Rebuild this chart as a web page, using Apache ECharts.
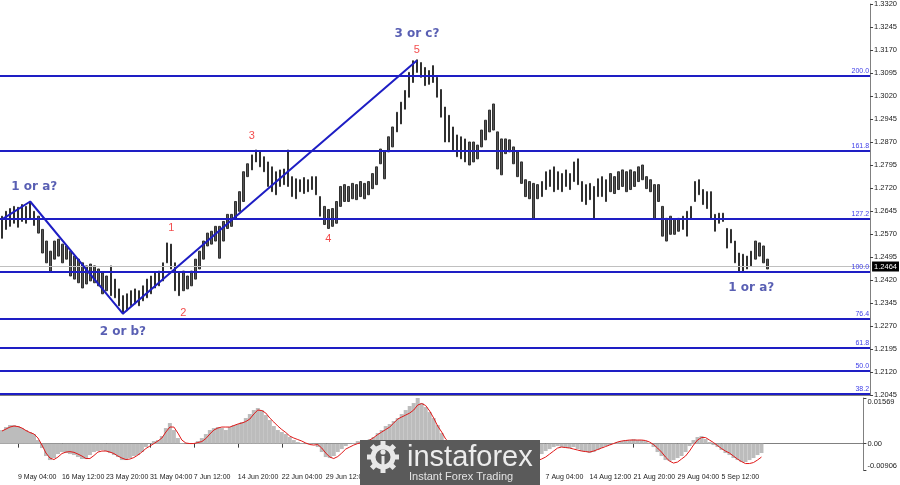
<!DOCTYPE html>
<html><head><meta charset="utf-8">
<script src="https://cdn.jsdelivr.net/npm/echarts@6.0.0/dist/echarts.min.js"></script>
<style>html,body{margin:0;padding:0;background:#fff;}#c{width:900px;height:485px;}</style>
</head><body><div id="c"></div>
<script>
// ---- price bars (one bar per slot), highs and lows ----
const HIGH = [
1.2628,1.2644,1.2653,1.2660,1.2657,1.2666,1.2660,1.2676,1.2644,1.2628,
1.2585,1.2547,1.2514,1.2547,1.2553,1.2537,1.2531,1.2514,1.2498,1.2488,
1.2476,1.2466,1.2472,1.2466,1.2456,1.2443,1.2433,1.2466,1.2423,1.2391,
1.2369,1.2375,1.2385,1.2391,1.2385,1.2401,1.2423,1.2433,1.2443,1.2449,
1.2476,1.2541,1.2537,1.2476,1.2443,1.2449,1.2433,1.2449,1.2488,1.2514,
1.2547,1.2573,1.2579,1.2595,1.2595,1.2611,1.2634,1.2634,1.2676,1.2708,
1.2773,1.2799,1.2828,1.2844,1.2838,1.2822,1.2805,1.2789,1.2773,1.2779,
1.2782,1.2844,1.2757,1.2750,1.2747,1.2754,1.2747,1.2757,1.2757,1.2692,
1.2660,1.2650,1.2653,1.2676,1.2725,1.2731,1.2725,1.2735,1.2731,1.2741,
1.2735,1.2741,1.2767,1.2789,1.2847,1.2838,1.2887,1.2919,1.2967,1.3000,
1.3038,1.3097,1.3135,1.3138,1.3129,1.3113,1.3103,1.3119,1.3081,1.3041,
1.2984,1.2957,1.2919,1.2893,1.2887,1.2880,1.2870,1.2870,1.2860,1.2909,
1.2941,1.2974,1.2994,1.2903,1.2880,1.2880,1.2877,1.2854,1.2838,1.2805,
1.2747,1.2741,1.2735,1.2731,1.2741,1.2773,1.2779,1.2789,1.2773,1.2767,
1.2779,1.2767,1.2805,1.2815,1.2741,1.2731,1.2735,1.2725,1.2750,1.2757,
1.2747,1.2767,1.2757,1.2773,1.2779,1.2773,1.2779,1.2773,1.2789,1.2795,
1.2757,1.2747,1.2731,1.2731,1.2660,1.2621,1.2628,1.2618,1.2621,1.2628,
1.2644,1.2660,1.2741,1.2747,1.2715,1.2708,1.2708,1.2634,1.2638,1.2638,
1.2588,1.2585,1.2547,1.2508,1.2504,1.2498,1.2514,1.2547,1.2541,1.2531,
1.2488];
const LOW = [
1.2556,1.2585,1.2595,1.2605,1.2592,1.2611,1.2605,1.2618,1.2598,1.2573,
1.2508,1.2476,1.2449,1.2488,1.2498,1.2476,1.2488,1.2433,1.2423,1.2411,
1.2394,1.2407,1.2417,1.2411,1.2401,1.2375,1.2385,1.2369,1.2362,1.2336,
1.2310,1.2320,1.2336,1.2342,1.2336,1.2352,1.2362,1.2375,1.2394,1.2401,
1.2417,1.2476,1.2456,1.2385,1.2369,1.2385,1.2391,1.2401,1.2423,1.2456,
1.2488,1.2531,1.2537,1.2547,1.2491,1.2547,1.2588,1.2595,1.2618,1.2644,
1.2676,1.2757,1.2779,1.2805,1.2789,1.2773,1.2725,1.2708,1.2698,1.2725,
1.2731,1.2725,1.2692,1.2685,1.2708,1.2702,1.2708,1.2715,1.2698,1.2628,
1.2601,1.2588,1.2595,1.2605,1.2660,1.2676,1.2676,1.2685,1.2682,1.2692,
1.2685,1.2698,1.2718,1.2731,1.2799,1.2750,1.2838,1.2854,1.2903,1.2929,
1.2977,1.3016,1.3064,1.3097,1.3081,1.3054,1.3058,1.3064,1.3016,1.2951,
1.2870,1.2870,1.2844,1.2822,1.2815,1.2805,1.2795,1.2805,1.2815,1.2854,
1.2877,1.2903,1.2909,1.2782,1.2763,1.2832,1.2838,1.2799,1.2757,1.2735,
1.2692,1.2685,1.2621,1.2685,1.2692,1.2715,1.2725,1.2708,1.2715,1.2708,
1.2725,1.2715,1.2741,1.2731,1.2676,1.2666,1.2682,1.2618,1.2692,1.2692,
1.2676,1.2708,1.2702,1.2715,1.2725,1.2708,1.2715,1.2725,1.2741,1.2747,
1.2718,1.2708,1.2618,1.2676,1.2563,1.2547,1.2569,1.2569,1.2579,1.2585,
1.2563,1.2621,1.2676,1.2698,1.2666,1.2653,1.2621,1.2579,1.2605,1.2611,
1.2524,1.2541,1.2476,1.2449,1.2449,1.2456,1.2466,1.2488,1.2498,1.2476,
1.2456];
// ---- MACD panel ----
const MACD_HIST = [
0.00468,0.00571,0.00639,0.00639,0.00605,0.00536,0.00468,0.00399,0.00330,0.00124,
-0.00151,-0.00426,-0.00564,-0.00495,-0.00358,-0.00289,-0.00323,-0.00358,-0.00392,-0.00461,
-0.00529,-0.00529,-0.00392,-0.00289,-0.00254,-0.00220,-0.00254,-0.00323,-0.00392,-0.00461,
-0.00564,-0.00564,-0.00495,-0.00426,-0.00392,-0.00289,-0.00117,-0.00014,0.00089,0.00124,
0.00261,0.00536,0.00708,0.00468,0.00193,0.00021,-0.00014,-0.00014,0.00021,0.00089,
0.00193,0.00330,0.00468,0.00536,0.00571,0.00536,0.00468,0.00571,0.00639,0.00674,
0.00743,0.00880,0.01018,0.01155,0.01224,0.01155,0.00983,0.00811,0.00605,0.00468,
0.00399,0.00330,0.00227,0.00124,0.00055,0.00021,-0.00014,0.00021,-0.00014,-0.00117,
-0.00289,-0.00461,-0.00495,-0.00426,-0.00289,-0.00186,-0.00083,-0.00014,0.00021,0.00089,
0.00089,0.00124,0.00158,0.00227,0.00364,0.00468,0.00605,0.00674,0.00777,0.00880,
0.01018,0.01155,0.01293,0.01396,0.01569,0.01396,0.01258,0.01086,0.00880,0.00639,
0.00364,0.00089,-0.00117,-0.00289,-0.00426,-0.00564,-0.00667,-0.00770,-0.00839,-0.00873,
-0.00839,-0.00736,-0.00633,-0.00598,-0.00701,-0.00839,-0.00906,-0.00873,-0.00804,-0.00736,
-0.00701,-0.00667,-0.00633,-0.00564,-0.00461,-0.00358,-0.00254,-0.00186,-0.00117,-0.00083,
-0.00117,-0.00151,-0.00151,-0.00117,-0.00186,-0.00254,-0.00289,-0.00323,-0.00289,-0.00220,
-0.00151,-0.00083,-0.00048,0.00021,0.00055,0.00089,0.00124,0.00124,0.00158,0.00124,
0.00124,0.00089,0.00021,-0.00117,-0.00289,-0.00426,-0.00564,-0.00598,-0.00564,-0.00495,
-0.00426,-0.00289,-0.00083,0.00124,0.00227,0.00261,0.00158,0.00055,-0.00048,-0.00117,
-0.00220,-0.00323,-0.00392,-0.00495,-0.00564,-0.00633,-0.00633,-0.00564,-0.00495,-0.00392,
-0.00323];
const MACD_SIGNAL = [
0.00433,0.00502,0.00571,0.00605,0.00588,0.00536,0.00450,0.00382,0.00330,0.00193,
-0.00048,-0.00323,-0.00495,-0.00547,-0.00461,-0.00340,-0.00289,-0.00275,-0.00299,-0.00358,
-0.00426,-0.00512,-0.00512,-0.00409,-0.00289,-0.00254,-0.00254,-0.00289,-0.00340,-0.00426,
-0.00495,-0.00547,-0.00529,-0.00478,-0.00392,-0.00289,-0.00168,-0.00083,0.00003,0.00089,
0.00193,0.00399,0.00571,0.00571,0.00364,0.00124,0.00021,0.00003,0.00003,0.00038,
0.00072,0.00175,0.00330,0.00468,0.00536,0.00571,0.00571,0.00571,0.00622,0.00674,
0.00708,0.00760,0.00846,0.01018,0.01155,0.01138,0.01052,0.00880,0.00743,0.00605,
0.00485,0.00382,0.00261,0.00193,0.00141,0.00089,0.00021,-0.00031,-0.00048,-0.00031,
-0.00151,-0.00323,-0.00461,-0.00512,-0.00444,-0.00323,-0.00186,-0.00117,-0.00048,0.00003,
0.00038,0.00072,0.00124,0.00210,0.00313,0.00399,0.00485,0.00571,0.00708,0.00846,
0.00915,0.00983,0.01052,0.01155,0.01327,0.01379,0.01310,0.01121,0.00880,0.00605,
0.00399,0.00158,0.00021,-0.00117,-0.00254,-0.00358,-0.00461,-0.00547,-0.00615,-0.00667,
-0.00719,-0.00753,-0.00770,-0.00770,-0.00770,-0.00770,-0.00787,-0.00804,-0.00804,-0.00787,
-0.00770,-0.00736,-0.00701,-0.00650,-0.00581,-0.00529,-0.00461,-0.00358,-0.00254,-0.00151,
-0.00117,-0.00134,-0.00151,-0.00186,-0.00220,-0.00254,-0.00272,-0.00289,-0.00254,-0.00203,
-0.00151,-0.00100,-0.00048,0.00003,0.00055,0.00089,0.00107,0.00124,0.00124,0.00124,
0.00124,0.00107,0.00055,-0.00031,-0.00151,-0.00289,-0.00461,-0.00598,-0.00667,-0.00633,
-0.00529,-0.00426,-0.00254,-0.00048,0.00124,0.00210,0.00210,0.00124,0.00038,-0.00065,
-0.00168,-0.00254,-0.00323,-0.00426,-0.00529,-0.00615,-0.00684,-0.00684,-0.00650,-0.00564,
-0.00461];
// ---- levels, ticks, labels ----
const FIB_LEVELS = [1.3087, 1.2841, 1.2621, 1.2446, 1.2294, 1.2200, 1.2124, 1.2050];
const FIB_LABELS = ['200.0', '161.8', '127.2', '100.0', '76.4', '61.8', '50.0', '38.2'];
const LAST_PRICE = 1.2464;
const PRICE_MIN = 1.2045, PRICE_MAX = 1.3320, PRICE_STEP = 0.0075;
const MACD_MIN = -0.00906, MACD_MAX = 0.01569;
const MACD_TICKS = [MACD_MIN, 0, MACD_MAX];
const TIME_LABELS = ['9 May 04:00', '16 May 12:00', '23 May 20:00', '31 May 04:00', '7 Jun 12:00',
  '14 Jun 20:00', '22 Jun 04:00', '29 Jun 12:00', '6 Jul 20:00', '14 Jul 04:00', '21 Jul 12:00',
  '28 Jul 20:00', '7 Aug 04:00', '14 Aug 12:00', '21 Aug 20:00', '29 Aug 04:00', '5 Sep 12:00'];
const SLOT_COUNT = 216, FIRST_LABEL_SLOT = 4, LABEL_EVERY = 11;
// ---- wave count ----
const WAVE_SLOTS = [0, 7, 30, 103];
const WAVE_PRICES = [1.2618, 1.2676, 1.2310, 1.3136];
const WAVE_NOTES = ['1 or a?', '2 or b?', '3 or c?', '1 or a?'];
const WAVE_NOTE_SLOTS = [8, 30, 103, 186];
const WAVE_NOTE_PRICES = [1.2725, 1.2252, 1.3223, 1.2394];
const SUB_NOTES = ['1', '2', '3', '4', '5'];
const SUB_NOTE_SLOTS = [42, 45, 62, 81, 103];
const SUB_NOTE_PRICES = [1.2589, 1.2314, 1.2890, 1.2553, 1.3171];

const categories = [];
for (let i = 0; i < SLOT_COUNT; i++) categories.push('s' + i);
const isLabelSlot = (i) => {
  const k = (i - FIRST_LABEL_SLOT) / LABEL_EVERY;
  return Number.isInteger(k) && k >= 0 && k < TIME_LABELS.length;
};

const BLUE = '#1e1ec4';
const LOGO_Z = 100;
const chart = echarts.init(document.getElementById('c'), null, {renderer: 'canvas'});
const option = {
  animation: false,
  backgroundColor: '#ffffff',
  grid: [
    {left: 0, right: 28, top: 1, height: 394},
    {left: 0, right: 28, top: 398, height: 72}
  ],
  xAxis: [
    {type: 'category', gridIndex: 0, data: categories,
     axisLine: {show: true, lineStyle: {color: '#808080', width: 1}},
     axisTick: {show: false}, axisLabel: {show: false}, splitLine: {show: false}},
    {type: 'category', gridIndex: 1, data: categories,
     axisLine: {show: true, lineStyle: {color: '#808080', width: 1}},
     axisTick: {show: true, interval: (i) => isLabelSlot(i), alignWithLabel: true, length: 4,
                lineStyle: {color: '#404040'}},
     axisLabel: {show: true, interval: (i) => isLabelSlot(i),
                 formatter: (v, i) => TIME_LABELS[(i - FIRST_LABEL_SLOT) / LABEL_EVERY],
                 align: 'left', margin: 4, fontSize: 7, color: '#1a1a1a', fontFamily: 'Liberation Sans'},
     splitLine: {show: false}}
  ],
  yAxis: [
    {type: 'value', gridIndex: 0, position: 'right', min: PRICE_MIN, max: PRICE_MAX, interval: PRICE_STEP,
     axisLine: {show: true, lineStyle: {color: '#808080', width: 1}},
     axisTick: {show: true, length: 3, lineStyle: {color: '#404040'}},
     axisLabel: {fontSize: 7.5, color: '#1a1a1a', margin: 4, fontFamily: 'Liberation Sans',
                 formatter: (v) => v.toFixed(4)},
     splitLine: {show: false}},
    {type: 'value', gridIndex: 1, position: 'right', min: MACD_MIN, max: MACD_MAX,
     axisLine: {show: true, lineStyle: {color: '#808080', width: 1}},
     axisTick: {show: true, length: 3, customValues: MACD_TICKS, lineStyle: {color: '#404040'}},
     axisLabel: {fontSize: 7.5, color: '#1a1a1a', margin: 4, fontFamily: 'Liberation Sans',
                 customValues: MACD_TICKS,
                 verticalAlignMaxLabel: 'top', verticalAlignMinLabel: 'bottom',
                 formatter: (v) => (Math.abs(v) < 1e-9 ? '0.00' : v.toFixed(5))},
     splitLine: {show: false}}
  ],
  series: [
    {type: 'candlestick', xAxisIndex: 0, yAxisIndex: 0,
     data: HIGH.map((h, i) => [LOW[i], h, LOW[i], h]),
     barWidth: 2,
     itemStyle: {color: '#555555', color0: '#555555', borderColor: '#303030', borderColor0: '#303030', borderWidth: 1},
     markLine: {
       silent: true, symbol: ['none', 'none'], animation: false, precision: 4,
       data: FIB_LEVELS.map((v, k) => ({
         yAxis: v,
         lineStyle: {color: BLUE, width: 2, type: 'solid'},
         label: {show: true, position: 'insideEndTop', formatter: FIB_LABELS[k], distance: 1,
                 fontSize: 7, color: '#4040e8', fontFamily: 'Liberation Sans'}
       })).concat([{
         yAxis: LAST_PRICE,
         lineStyle: {color: '#c0c0c0', width: 1, type: 'solid'},
         label: {show: true, position: 'end', formatter: LAST_PRICE.toFixed(4), distance: 2,
                 fontSize: 7.5, color: '#ffffff', backgroundColor: '#000000', padding: [1, 2, 1, 2],
                 fontFamily: 'Liberation Sans'}
       }])
     }},
    {type: 'line', xAxisIndex: 0, yAxisIndex: 0, z: 5,
     data: WAVE_SLOTS.map((s, k) => [s, WAVE_PRICES[k]]),
     symbol: 'none', lineStyle: {color: BLUE, width: 2}},
    {type: 'scatter', xAxisIndex: 0, yAxisIndex: 0, z: 6, symbolSize: 1, itemStyle: {color: 'rgba(0,0,0,0)'},
     data: WAVE_NOTES.map((t, k) => ({name: t, value: [WAVE_NOTE_SLOTS[k], WAVE_NOTE_PRICES[k]]})),
     label: {show: true, position: 'inside', formatter: (p) => p.name, fontSize: 12, fontWeight: 'bold',
             color: '#2f37a0', fontFamily: 'DejaVu Sans'}},
    {type: 'scatter', xAxisIndex: 0, yAxisIndex: 0, z: 6, symbolSize: 1, itemStyle: {color: 'rgba(0,0,0,0)'},
     data: SUB_NOTES.map((t, k) => ({name: t, value: [SUB_NOTE_SLOTS[k], SUB_NOTE_PRICES[k]]})),
     label: {show: true, position: 'inside', formatter: (p) => p.name, fontSize: 11,
             color: '#f02020', fontFamily: 'Liberation Sans'}},
    {type: 'bar', xAxisIndex: 1, yAxisIndex: 1, data: MACD_HIST, barCategoryGap: '0%',
     itemStyle: {color: '#bcbcbc'}},
    {type: 'line', xAxisIndex: 1, yAxisIndex: 1, data: MACD_SIGNAL, symbol: 'none',
     lineStyle: {color: '#e01818', width: 1}, z: 4}
  ],
  graphic: [
    {type: 'rect', x: 360, y: 440, z: LOGO_Z, shape: {x: 0, y: 0, width: 180, height: 45}, style: {fill: '#5a5a5a'}},
    {type: 'circle', x: 360, y: 440, z: LOGO_Z + 1, shape: {cx: 23, cy: 17, r: 10},
     style: {fill: 'none', stroke: '#e8e8e8', lineWidth: 5}},
    ...[0, 1, 2, 3, 4, 5, 6, 7].map((k) => ({
      type: 'rect', x: 383, y: 457, z: LOGO_Z + 1, rotation: k * Math.PI / 4,
      shape: {x: -2.5, y: -16, width: 5, height: 5}, style: {fill: '#e8e8e8'}})),
    {type: 'circle', x: 360, y: 440, z: LOGO_Z + 1, shape: {cx: 23, cy: 12, r: 2.6}, style: {fill: '#e8e8e8'}},
    {type: 'rect', x: 360, y: 440, z: LOGO_Z + 1, shape: {x: 21.5, y: 16, width: 3, height: 10}, style: {fill: '#e8e8e8'}},
    {type: 'text', x: 407, y: 458, z: LOGO_Z + 1,
     style: {text: 'instaforex', font: '29px "Liberation Sans"', fill: '#ececec', verticalAlign: 'middle'}},
    {type: 'text', x: 409, y: 477, z: LOGO_Z + 1,
     style: {text: 'Instant Forex Trading', font: '11px "Liberation Sans"', fill: '#e4e4e4', verticalAlign: 'middle'}}
  ]
};
chart.setOption(option);
</script>
</body></html>
